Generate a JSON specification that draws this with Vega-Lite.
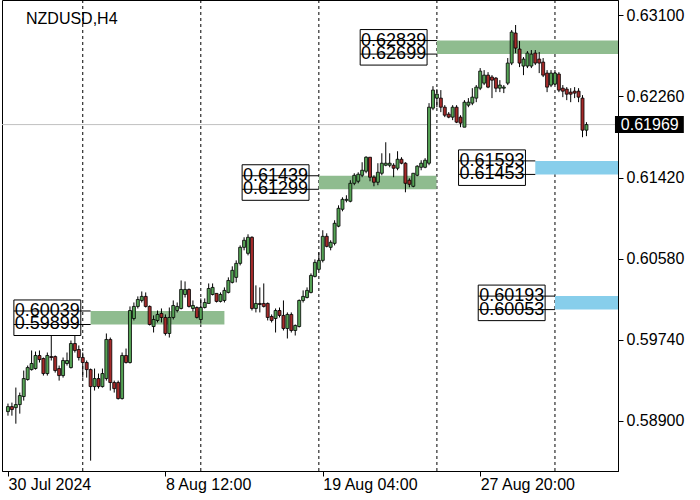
{
"$schema": "https://vega.github.io/schema/vega-lite/v6.json",
"width": 616, "height": 471,
"autosize": "none",
"padding": {"left": 2, "top": 0, "right": 82, "bottom": 29},
"background": "white",
"config": {"view": {"stroke": "black", "strokeWidth": 1}, "font": "Liberation Sans"},
"title": {"text": "NZDUSD,H4", "anchor": "start", "frame": "group", "orient": "top", "offset": -40, "baseline": "alphabetic", "dx": 24, "fontSize": 16, "fontWeight": "normal", "font": "Liberation Sans", "color": "black"},
"datasets": {
"candles": [
{"t":0,"o":0.58997,"h":0.59080,"l":0.58955,"c":0.59049},
{"t":1,"o":0.59049,"h":0.59090,"l":0.58955,"c":0.59018},
{"t":2,"o":0.59038,"h":0.59246,"l":0.58872,"c":0.59070},
{"t":3,"o":0.59070,"h":0.59194,"l":0.58976,"c":0.59163},
{"t":4,"o":0.59153,"h":0.59422,"l":0.59111,"c":0.59339},
{"t":5,"o":0.59329,"h":0.59474,"l":0.59318,"c":0.59453},
{"t":6,"o":0.59432,"h":0.59630,"l":0.59422,"c":0.59495},
{"t":7,"o":0.59443,"h":0.59619,"l":0.59432,"c":0.59578},
{"t":8,"o":0.59578,"h":0.59630,"l":0.59505,"c":0.59536},
{"t":9,"o":0.59547,"h":0.59557,"l":0.59370,"c":0.59391},
{"t":10,"o":0.59391,"h":0.59609,"l":0.59370,"c":0.59578},
{"t":11,"o":0.59567,"h":0.59837,"l":0.59526,"c":0.59557},
{"t":12,"o":0.59567,"h":0.59578,"l":0.59401,"c":0.59422},
{"t":13,"o":0.59443,"h":0.59474,"l":0.59318,"c":0.59370},
{"t":14,"o":0.59370,"h":0.59557,"l":0.59349,"c":0.59526},
{"t":15,"o":0.59495,"h":0.59609,"l":0.59474,"c":0.59526},
{"t":16,"o":0.59453,"h":0.59733,"l":0.59443,"c":0.59702},
{"t":17,"o":0.59702,"h":0.59909,"l":0.59609,"c":0.59630},
{"t":18,"o":0.59640,"h":0.59682,"l":0.59526,"c":0.59557},
{"t":19,"o":0.59557,"h":0.59609,"l":0.59349,"c":0.59505},
{"t":20,"o":0.59505,"h":0.59526,"l":0.59349,"c":0.59432},
{"t":21,"o":0.59432,"h":0.59443,"l":0.58489,"c":0.59256},
{"t":22,"o":0.59256,"h":0.59443,"l":0.59215,"c":0.59339},
{"t":23,"o":0.59339,"h":0.59391,"l":0.59235,"c":0.59256},
{"t":24,"o":0.59256,"h":0.59443,"l":0.59246,"c":0.59391},
{"t":25,"o":0.59339,"h":0.59806,"l":0.59318,"c":0.59744},
{"t":26,"o":0.59744,"h":0.59764,"l":0.59215,"c":0.59298},
{"t":27,"o":0.59298,"h":0.59318,"l":0.59194,"c":0.59235},
{"t":28,"o":0.59298,"h":0.59318,"l":0.59122,"c":0.59132},
{"t":29,"o":0.59132,"h":0.59609,"l":0.59122,"c":0.59578},
{"t":30,"o":0.59578,"h":0.59650,"l":0.59495,"c":0.59505},
{"t":31,"o":0.59505,"h":0.60086,"l":0.59495,"c":0.60044},
{"t":32,"o":0.59961,"h":0.60127,"l":0.59941,"c":0.60086},
{"t":33,"o":0.60086,"h":0.60190,"l":0.60065,"c":0.60158},
{"t":34,"o":0.60148,"h":0.60241,"l":0.60127,"c":0.60190},
{"t":35,"o":0.60190,"h":0.60231,"l":0.60075,"c":0.60086},
{"t":36,"o":0.60086,"h":0.60096,"l":0.59889,"c":0.59899},
{"t":37,"o":0.59878,"h":0.59993,"l":0.59816,"c":0.59951},
{"t":38,"o":0.59941,"h":0.60044,"l":0.59920,"c":0.60003},
{"t":39,"o":0.60013,"h":0.60065,"l":0.59920,"c":0.59972},
{"t":40,"o":0.59972,"h":0.60003,"l":0.59785,"c":0.59806},
{"t":41,"o":0.59806,"h":0.60075,"l":0.59764,"c":0.59972},
{"t":42,"o":0.59972,"h":0.60148,"l":0.59951,"c":0.60096},
{"t":43,"o":0.60044,"h":0.60127,"l":0.60024,"c":0.60086},
{"t":44,"o":0.60065,"h":0.60355,"l":0.60055,"c":0.60262},
{"t":45,"o":0.60210,"h":0.60345,"l":0.60179,"c":0.60262},
{"t":46,"o":0.60262,"h":0.60272,"l":0.60075,"c":0.60086},
{"t":47,"o":0.60065,"h":0.60148,"l":0.60034,"c":0.60096},
{"t":48,"o":0.60075,"h":0.60086,"l":0.59961,"c":0.59972},
{"t":49,"o":0.59951,"h":0.60169,"l":0.59909,"c":0.60075},
{"t":50,"o":0.60075,"h":0.60169,"l":0.60065,"c":0.60127},
{"t":51,"o":0.60117,"h":0.60324,"l":0.60117,"c":0.60272},
{"t":52,"o":0.60210,"h":0.60324,"l":0.60200,"c":0.60283},
{"t":53,"o":0.60221,"h":0.60221,"l":0.60127,"c":0.60138},
{"t":54,"o":0.60138,"h":0.60231,"l":0.60127,"c":0.60210},
{"t":55,"o":0.60148,"h":0.60283,"l":0.60127,"c":0.60252},
{"t":56,"o":0.60231,"h":0.60387,"l":0.60221,"c":0.60355},
{"t":57,"o":0.60335,"h":0.60501,"l":0.60324,"c":0.60460},
{"t":58,"o":0.60387,"h":0.60563,"l":0.60335,"c":0.60532},
{"t":59,"o":0.60532,"h":0.60718,"l":0.60511,"c":0.60698},
{"t":60,"o":0.60698,"h":0.60802,"l":0.60667,"c":0.60771},
{"t":61,"o":0.60636,"h":0.60833,"l":0.60615,"c":0.60802},
{"t":62,"o":0.60802,"h":0.60812,"l":0.60044,"c":0.60065},
{"t":63,"o":0.60065,"h":0.60304,"l":0.60024,"c":0.60117},
{"t":64,"o":0.60117,"h":0.60283,"l":0.60024,"c":0.60106},
{"t":65,"o":0.60117,"h":0.60324,"l":0.60075,"c":0.60086},
{"t":66,"o":0.60117,"h":0.60127,"l":0.59941,"c":0.59972},
{"t":67,"o":0.59982,"h":0.60003,"l":0.59920,"c":0.59941},
{"t":68,"o":0.59961,"h":0.60065,"l":0.59816,"c":0.60044},
{"t":69,"o":0.60044,"h":0.60075,"l":0.59972,"c":0.59993},
{"t":70,"o":0.59993,"h":0.60148,"l":0.59837,"c":0.59858},
{"t":71,"o":0.59858,"h":0.60024,"l":0.59754,"c":0.60003},
{"t":72,"o":0.60003,"h":0.60024,"l":0.59816,"c":0.59837},
{"t":73,"o":0.59837,"h":0.59899,"l":0.59785,"c":0.59889},
{"t":74,"o":0.59878,"h":0.60158,"l":0.59868,"c":0.60148},
{"t":75,"o":0.60148,"h":0.60252,"l":0.60127,"c":0.60190},
{"t":76,"o":0.60179,"h":0.60283,"l":0.60169,"c":0.60252},
{"t":77,"o":0.60231,"h":0.60428,"l":0.60221,"c":0.60407},
{"t":78,"o":0.60397,"h":0.60573,"l":0.60387,"c":0.60542},
{"t":79,"o":0.60470,"h":0.60646,"l":0.60460,"c":0.60563},
{"t":80,"o":0.60563,"h":0.60875,"l":0.60542,"c":0.60812},
{"t":81,"o":0.60812,"h":0.60843,"l":0.60698,"c":0.60708},
{"t":82,"o":0.60698,"h":0.60771,"l":0.60667,"c":0.60750},
{"t":83,"o":0.60739,"h":0.60978,"l":0.60718,"c":0.60947},
{"t":84,"o":0.60917,"h":0.61133,"l":0.60906,"c":0.61102},
{"t":85,"o":0.61092,"h":0.61216,"l":0.61071,"c":0.61195},
{"t":86,"o":0.61185,"h":0.61237,"l":0.61164,"c":0.61195},
{"t":87,"o":0.61175,"h":0.61393,"l":0.61164,"c":0.61361},
{"t":88,"o":0.61361,"h":0.61465,"l":0.61341,"c":0.61444},
{"t":89,"o":0.61382,"h":0.61475,"l":0.61361,"c":0.61455},
{"t":90,"o":0.61444,"h":0.61579,"l":0.61424,"c":0.61496},
{"t":91,"o":0.61486,"h":0.61641,"l":0.61465,"c":0.61631},
{"t":92,"o":0.61631,"h":0.61631,"l":0.61382,"c":0.61424},
{"t":93,"o":0.61424,"h":0.61444,"l":0.61330,"c":0.61372},
{"t":94,"o":0.61372,"h":0.61569,"l":0.61341,"c":0.61475},
{"t":95,"o":0.61465,"h":0.61672,"l":0.61444,"c":0.61569},
{"t":96,"o":0.61548,"h":0.61786,"l":0.61538,"c":0.61569},
{"t":97,"o":0.61548,"h":0.61672,"l":0.61527,"c":0.61569},
{"t":98,"o":0.61548,"h":0.61569,"l":0.61424,"c":0.61517},
{"t":99,"o":0.61517,"h":0.61693,"l":0.61496,"c":0.61610},
{"t":100,"o":0.61610,"h":0.61631,"l":0.61558,"c":0.61569},
{"t":101,"o":0.61569,"h":0.61579,"l":0.61268,"c":0.61361},
{"t":102,"o":0.61393,"h":0.61413,"l":0.61320,"c":0.61351},
{"t":103,"o":0.61330,"h":0.61465,"l":0.61320,"c":0.61465},
{"t":104,"o":0.61444,"h":0.61548,"l":0.61434,"c":0.61538},
{"t":105,"o":0.61527,"h":0.61600,"l":0.61496,"c":0.61569},
{"t":106,"o":0.61527,"h":0.61621,"l":0.61517,"c":0.61600},
{"t":107,"o":0.61569,"h":0.62191,"l":0.61548,"c":0.62149},
{"t":108,"o":0.62139,"h":0.62367,"l":0.62118,"c":0.62326},
{"t":109,"o":0.62243,"h":0.62336,"l":0.62149,"c":0.62284},
{"t":110,"o":0.62243,"h":0.62326,"l":0.62098,"c":0.62149},
{"t":111,"o":0.62149,"h":0.62170,"l":0.62046,"c":0.62066},
{"t":112,"o":0.62077,"h":0.62098,"l":0.62035,"c":0.62046},
{"t":113,"o":0.62046,"h":0.62170,"l":0.62015,"c":0.62149},
{"t":114,"o":0.62149,"h":0.62170,"l":0.61984,"c":0.61994},
{"t":115,"o":0.62046,"h":0.62066,"l":0.61942,"c":0.61984},
{"t":116,"o":0.61942,"h":0.62222,"l":0.61942,"c":0.62201},
{"t":117,"o":0.62170,"h":0.62243,"l":0.62149,"c":0.62201},
{"t":118,"o":0.62191,"h":0.62346,"l":0.62170,"c":0.62253},
{"t":119,"o":0.62243,"h":0.62378,"l":0.62201,"c":0.62357},
{"t":120,"o":0.62346,"h":0.62554,"l":0.62326,"c":0.62523},
{"t":121,"o":0.62398,"h":0.62533,"l":0.62378,"c":0.62481},
{"t":122,"o":0.62481,"h":0.62512,"l":0.62346,"c":0.62357},
{"t":123,"o":0.62461,"h":0.62481,"l":0.62243,"c":0.62429},
{"t":124,"o":0.62450,"h":0.62461,"l":0.62305,"c":0.62346},
{"t":125,"o":0.62346,"h":0.62429,"l":0.62305,"c":0.62378},
{"t":126,"o":0.62346,"h":0.62378,"l":0.62295,"c":0.62357},
{"t":127,"o":0.62398,"h":0.62658,"l":0.62378,"c":0.62606},
{"t":128,"o":0.62606,"h":0.62948,"l":0.62585,"c":0.62927},
{"t":129,"o":0.62917,"h":0.63000,"l":0.62709,"c":0.62761},
{"t":130,"o":0.62751,"h":0.62834,"l":0.62564,"c":0.62606},
{"t":131,"o":0.62575,"h":0.62668,"l":0.62481,"c":0.62647},
{"t":132,"o":0.62575,"h":0.62730,"l":0.62554,"c":0.62709},
{"t":133,"o":0.62575,"h":0.62741,"l":0.62554,"c":0.62699},
{"t":134,"o":0.62709,"h":0.62741,"l":0.62585,"c":0.62606},
{"t":135,"o":0.62647,"h":0.62720,"l":0.62502,"c":0.62606},
{"t":136,"o":0.62616,"h":0.62658,"l":0.62461,"c":0.62481},
{"t":137,"o":0.62502,"h":0.62533,"l":0.62305,"c":0.62357},
{"t":138,"o":0.62378,"h":0.62533,"l":0.62357,"c":0.62502},
{"t":139,"o":0.62388,"h":0.62533,"l":0.62378,"c":0.62502},
{"t":140,"o":0.62492,"h":0.62512,"l":0.62305,"c":0.62326},
{"t":141,"o":0.62346,"h":0.62378,"l":0.62253,"c":0.62315},
{"t":142,"o":0.62336,"h":0.62357,"l":0.62222,"c":0.62284},
{"t":143,"o":0.62305,"h":0.62346,"l":0.62201,"c":0.62284},
{"t":144,"o":0.62315,"h":0.62357,"l":0.62243,"c":0.62295},
{"t":145,"o":0.62315,"h":0.62346,"l":0.62201,"c":0.62253},
{"t":146,"o":0.62243,"h":0.62274,"l":0.61838,"c":0.61911},
{"t":147,"o":0.61911,"h":0.61994,"l":0.61849,"c":0.61969}
],
"zones": [
{"start":21,"end":55,"hi":0.60039,"lo":0.59899,"state":"tested"},
{"start":79,"end":108.9,"hi":0.61439,"lo":0.61299,"state":"tested"},
{"start":109,"end":160,"hi":0.62839,"lo":0.62699,"state":"tested"},
{"start":134,"end":160,"hi":0.61593,"lo":0.61453,"state":"fresh"},
{"start":139,"end":160,"hi":0.60193,"lo":0.60053,"state":"fresh"}
],
"weeks": [{"t":19},{"t":49},{"t":79},{"t":109},{"t":139}],
"last": [{"price":0.61969}]
},
"layer": [
{"data": {"name": "candles"}, "mark": {"type": "rule", "color": "black", "strokeWidth": 1},
 "encoding": {
  "x": {"field": "t", "type": "quantitative", "title": null, "scale": {"domain": [-0.25, 153.75], "nice": false, "zero": false},
        "axis": {"orient": "bottom", "values": [0, 40, 80, 120], "labelExpr": "datum.value == 0 ? '30 Jul 2024' : datum.value == 40 ? '8 Aug 12:00' : datum.value == 80 ? '19 Aug 04:00' : '27 Aug 20:00'", "labelAlign": "left", "labelBaseline": "top", "labelPadding": 0, "labelFontSize": 16, "labelFont": "Liberation Sans", "labelColor": "black", "tickColor": "black", "tickSize": 5, "domainColor": "black", "grid": false, "title": null, "labelOverlap": false, "labelFlush": false}},
  "y": {"field": "l", "type": "quantitative", "title": null, "scale": {"domain": [0.58382, 0.63259], "nice": false, "zero": false},
        "axis": {"orient": "right", "values": [0.589, 0.5974, 0.6058, 0.6142, 0.6226, 0.631], "format": ".5f", "labelFontSize": 16, "labelFont": "Liberation Sans", "labelColor": "black", "tickColor": "black", "tickSize": 5, "labelPadding": 3, "domainColor": "black", "grid": false, "title": null, "labelOverlap": false, "labelFlush": false}},
  "y2": {"field": "h"}, "opacity": {"value": 0}}},
{"data": {"name": "weeks"}, "mark": {"type": "rule", "color": "black", "strokeWidth": 1, "strokeDash": [3, 3]},
 "encoding": {"x": {"field": "t", "type": "quantitative", "title": null, "scale": {"domain": [-0.25, 153.75], "nice": false, "zero": false}}}},
{"data": {"name": "last"}, "mark": {"type": "rule", "color": "#C0C0C0", "strokeWidth": 1},
 "encoding": {"y": {"field": "price", "type": "quantitative", "title": null, "scale": {"domain": [0.58382, 0.63259], "nice": false, "zero": false}}}},
{"data": {"name": "zones"}, "mark": {"type": "rect", "clip": true},
 "encoding": {
  "x": {"field": "start", "type": "quantitative", "title": null, "scale": {"domain": [-0.25, 153.75], "nice": false, "zero": false}},
  "x2": {"field": "end"},
  "y": {"field": "hi", "type": "quantitative", "title": null, "scale": {"domain": [0.58382, 0.63259], "nice": false, "zero": false}},
  "y2": {"field": "lo"},
  "fill": {"field": "state", "type": "nominal", "scale": {"domain": ["tested", "fresh"], "range": ["#8FBC8F", "#87CEEB"]}, "legend": null}}},
{"data": {"name": "candles"}, "mark": {"type": "rule", "color": "black", "strokeWidth": 1},
 "encoding": {
  "x": {"field": "t", "type": "quantitative", "title": null, "scale": {"domain": [-0.25, 153.75], "nice": false, "zero": false}},
  "y": {"field": "l", "type": "quantitative", "title": null, "scale": {"domain": [0.58382, 0.63259], "nice": false, "zero": false}},
  "y2": {"field": "h"}}},
{"data": {"name": "candles"}, "mark": {"type": "bar", "size": 3, "stroke": "black", "strokeWidth": 0.8},
 "encoding": {
  "x": {"field": "t", "type": "quantitative", "title": null, "scale": {"domain": [-0.25, 153.75], "nice": false, "zero": false}},
  "y": {"field": "o", "type": "quantitative", "title": null, "scale": {"domain": [0.58382, 0.63259], "nice": false, "zero": false}},
  "y2": {"field": "c"},
  "fill": {"condition": {"test": "datum.c >= datum.o", "value": "#55A355"}, "value": "#A52A2A"}}},
{"data": {"name": "zones"},
 "transform": [{"calculate": "datum.start - 19.5", "as": "boxL"}, {"calculate": "datum.start - 2.5", "as": "boxR"}, {"calculate": "datum.hi + 0.00114", "as": "boxT"}, {"calculate": "datum.lo - 0.00114", "as": "boxB"}],
 "mark": {"type": "rect", "fill": "white", "stroke": "black", "strokeWidth": 1},
 "encoding": {
  "x": {"field": "boxL", "type": "quantitative", "title": null, "scale": {"domain": [-0.25, 153.75], "nice": false, "zero": false}},
  "x2": {"field": "boxR"},
  "y": {"field": "boxT", "type": "quantitative", "title": null, "scale": {"domain": [0.58382, 0.63259], "nice": false, "zero": false}},
  "y2": {"field": "boxB"}}},
{"data": {"name": "zones"},
 "transform": [{"calculate": "datum.start - 19.5", "as": "boxL"}],
 "mark": {"type": "rule", "color": "black", "strokeWidth": 1},
 "encoding": {
  "x": {"field": "boxL", "type": "quantitative", "title": null, "scale": {"domain": [-0.25, 153.75], "nice": false, "zero": false}},
  "x2": {"field": "start"},
  "y": {"field": "hi", "type": "quantitative", "title": null, "scale": {"domain": [0.58382, 0.63259], "nice": false, "zero": false}}}},
{"data": {"name": "zones"},
 "transform": [{"calculate": "datum.start - 19.5", "as": "boxL"}],
 "mark": {"type": "rule", "color": "black", "strokeWidth": 1},
 "encoding": {
  "x": {"field": "boxL", "type": "quantitative", "title": null, "scale": {"domain": [-0.25, 153.75], "nice": false, "zero": false}},
  "x2": {"field": "start"},
  "y": {"field": "lo", "type": "quantitative", "title": null, "scale": {"domain": [0.58382, 0.63259], "nice": false, "zero": false}}}},
{"data": {"name": "zones"},
 "transform": [{"calculate": "datum.start - 11", "as": "mid"}],
 "mark": {"type": "text", "font": "Liberation Sans", "fontSize": 18, "color": "black", "align": "center", "baseline": "middle"},
 "encoding": {
  "x": {"field": "mid", "type": "quantitative", "title": null, "scale": {"domain": [-0.25, 153.75], "nice": false, "zero": false}},
  "y": {"field": "hi", "type": "quantitative", "title": null, "scale": {"domain": [0.58382, 0.63259], "nice": false, "zero": false}},
  "text": {"field": "hi", "type": "quantitative", "format": ".5f"}}},
{"data": {"name": "zones"},
 "transform": [{"calculate": "datum.start - 11", "as": "mid"}],
 "mark": {"type": "text", "font": "Liberation Sans", "fontSize": 18, "color": "black", "align": "center", "baseline": "middle"},
 "encoding": {
  "x": {"field": "mid", "type": "quantitative", "title": null, "scale": {"domain": [-0.25, 153.75], "nice": false, "zero": false}},
  "y": {"field": "lo", "type": "quantitative", "title": null, "scale": {"domain": [0.58382, 0.63259], "nice": false, "zero": false}},
  "text": {"field": "lo", "type": "quantitative", "format": ".5f"}}},
{"data": {"name": "last"},
 "transform": [{"calculate": "datum.price + 0.00088", "as": "tagT"}, {"calculate": "datum.price - 0.00088", "as": "tagB"}],
 "mark": {"type": "rect", "fill": "black", "clip": false},
 "encoding": {
  "x": {"datum": 154.25, "type": "quantitative", "title": null, "scale": {"domain": [-0.25, 153.75], "nice": false, "zero": false}},
  "x2": {"datum": 171.75},
  "y": {"field": "tagT", "type": "quantitative", "title": null, "scale": {"domain": [0.58382, 0.63259], "nice": false, "zero": false}},
  "y2": {"field": "tagB"}}},
{"data": {"name": "last"},
 "mark": {"type": "text", "font": "Liberation Sans", "fontSize": 16, "color": "white", "align": "left", "baseline": "middle", "clip": false},
 "encoding": {
  "x": {"datum": 155.75, "type": "quantitative", "title": null, "scale": {"domain": [-0.25, 153.75], "nice": false, "zero": false}},
  "y": {"field": "price", "type": "quantitative", "title": null, "scale": {"domain": [0.58382, 0.63259], "nice": false, "zero": false}},
  "text": {"field": "price", "type": "quantitative", "format": ".5f"}}}
]
}
